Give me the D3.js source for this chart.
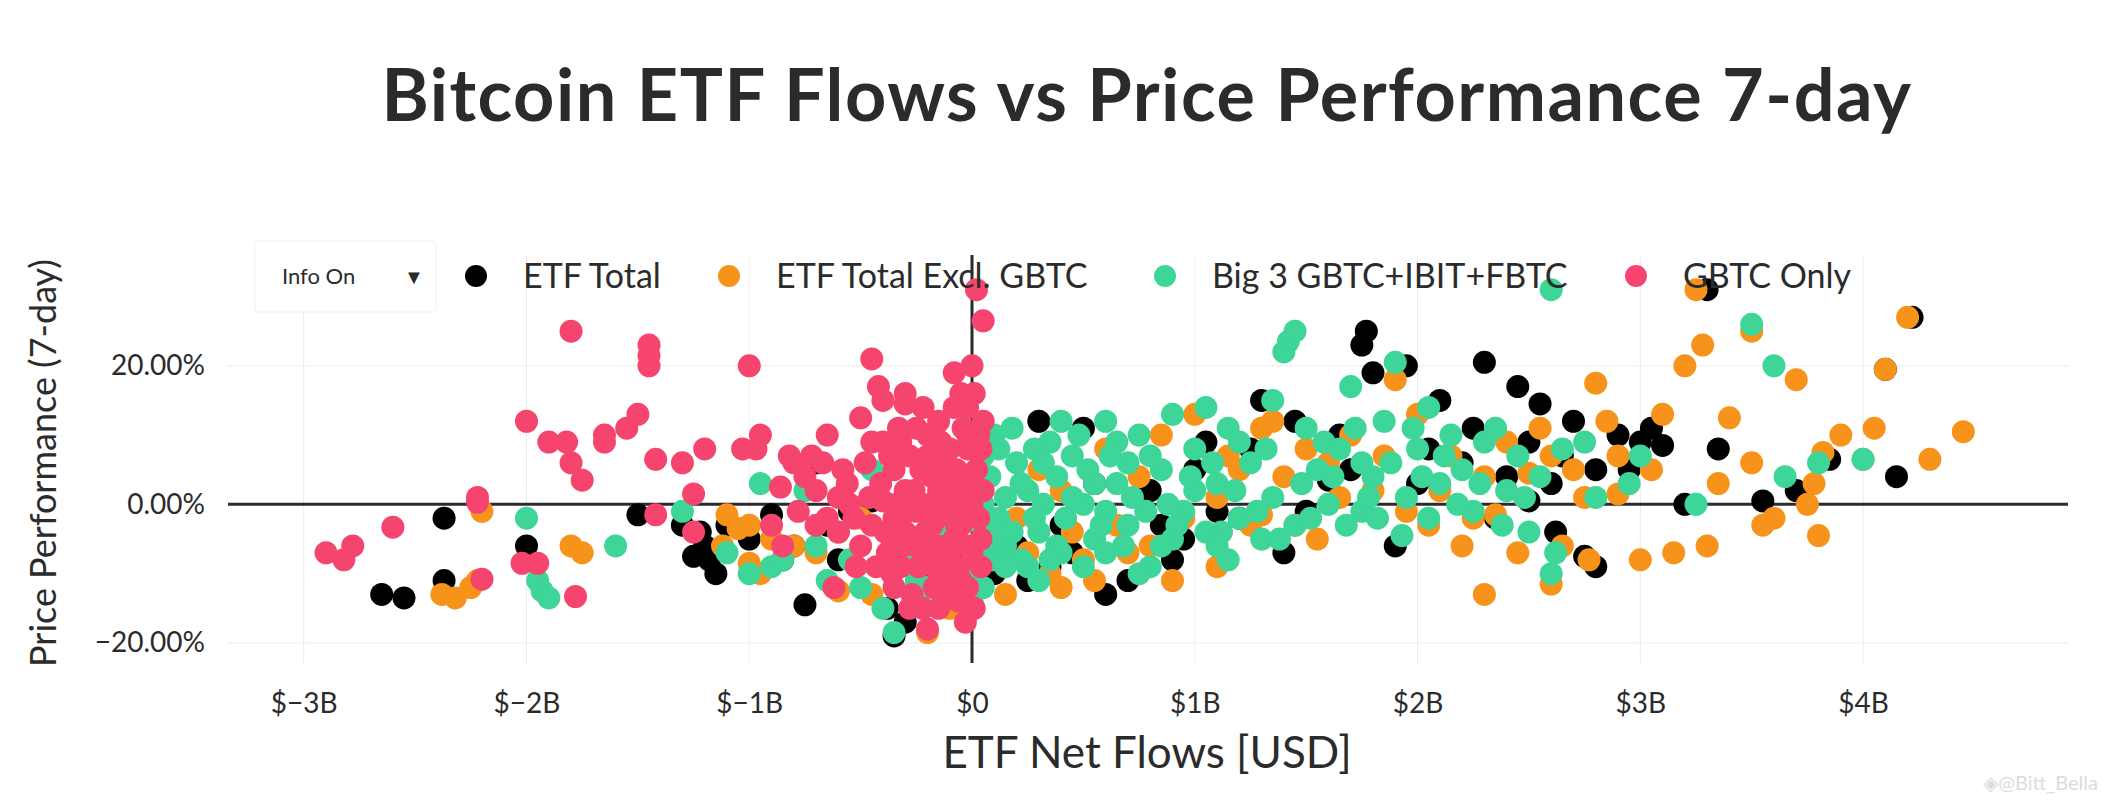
<!DOCTYPE html>
<html><head><meta charset="utf-8">
<script src="https://cdn.jsdelivr.net/npm/d3@7"></script>
<style>body{margin:0;background:#fff}text{font-family:Lato,"Open Sans",sans-serif;fill:#2b2b2b}</style>
</head><body><svg id="c" width="2103" height="804"></svg>
<script>
const seriesNames=["ETF Total","ETF Total Excl. GBTC","Big 3 GBTC+IBIT+FBTC","GBTC Only"];
const seriesColors=["#000000","#f7931a","#3dd598","#f5456e"];
const xTicks=[-3,-2,-1,0,1,2,3,4];
const yTicks=[-20,0,20];
const etfTotal=[[-2.65,-13],[-2.55,-13.5],[-2.37,-11],[-2.37,-2],[-2.0,-6],[-1.5,-1.5],[-1.3,-3],[-1.25,-7.5],[-1.2,-6],[-1.15,-10],[-1.1,-3],[-0.9,-1.5],[-0.75,-14.5],[-0.7,6],[-0.55,-1],[-0.35,-19],[-0.38,-15],[-0.3,-17],[-0.45,0.5],[-0.2,-9],[0.35,-9],[0.6,-13],[0.4,-3],[0.5,11],[0.9,-8],[1.05,9],[1.25,8],[1.3,15],[1.45,12],[1.6,3.5],[1.75,23],[1.77,25],[1.8,19],[1.9,-6],[1.95,20],[2.1,15],[2.3,20.5],[2.35,-2],[2.45,17],[2.5,9],[2.55,14.5],[2.6,3],[2.62,-4],[2.7,12],[2.75,-7.5],[2.8,-9],[2.9,10],[2.95,5],[3.05,11],[3.1,8.5],[3.3,31],[3.35,8],[3.55,0.5],[3.7,2],[3.85,6.5],[4.1,19.5],[4.22,27],[4.15,4],[1.2,-2],[0.8,2],[1.0,5],[1.5,-1],[2.0,3],[2.2,6],[0.3,12],[1.4,-7],[0.95,-5],[2.5,0.5],[3.2,0],[0.2,-6],[-0.05,-8],[-0.6,-8],[-0.85,-8],[-1.0,-5],[2.8,5],[3.0,9],[1.65,10],[2.25,11],[0.7,-11],[-1.22,-4],[-1.18,-8],[-0.8,-6],[-0.65,-3],[0.1,-10],[0.25,-11],[0.45,-7],[1.1,-1],[1.7,5],[2.05,8],[2.4,4],[2.65,7],[0.55,3],[0.85,-3]];
const etfExGbtc=[[-2.38,-13],[-2.32,-13.5],[-2.25,-12],[-2.22,-11],[-2.2,-1],[-1.8,-6],[-1.75,-7],[-1.1,-1.5],[-1.05,-3.5],[-1.0,-8.5],[-0.95,-10],[-0.6,-12.5],[-0.45,-13],[-0.2,-18.5],[-0.1,-15],[0.15,-13],[0.35,-10],[0.5,-8],[0.9,-11],[0.65,-3],[0.4,2],[0.8,-6],[1.1,-9],[1.3,-1.5],[1.35,12],[1.5,8],[1.55,-5],[1.7,10],[1.9,18],[2.0,13],[2.05,-3],[2.2,-6],[2.3,-13],[2.35,-1.5],[2.4,9],[2.5,4.5],[2.55,11],[2.6,-11.5],[2.65,-6],[2.7,5],[2.77,-8],[2.8,17.5],[2.85,12],[2.9,1.5],[3.0,-8],[3.05,5],[3.1,13],[3.15,-7],[3.2,20],[3.25,31],[3.28,23],[3.3,-6],[3.35,3],[3.5,6],[3.5,25],[3.6,-2],[3.7,18],[3.78,3],[3.8,-4.5],[3.82,7.5],[3.9,10],[4.0,6.5],[4.05,11],[4.1,19.5],[4.2,27],[4.3,6.5],[4.45,10.5],[1.0,13],[1.2,5],[1.8,2],[0.3,5],[0.6,8],[0.2,-2],[-0.3,1],[-0.5,-2],[-0.8,-6],[2.15,7],[1.1,1],[0.75,4],[2.25,-2],[3.4,12.5],[3.55,-3],[3.75,0],[2.45,-7],[0.1,-8],[0.55,-11],[1.25,-3],[1.6,6],[2.1,2],[-1.12,-6],[-1.0,-3],[-0.9,-5],[-0.7,-7],[-0.35,-4],[0.05,-5],[0.25,-7],[0.45,-4],[0.7,-7],[0.95,-2],[1.15,7],[1.4,4],[1.45,-3],[1.65,1],[1.85,7],[1.95,-1],[2.3,4],[2.6,7],[2.75,1],[0.85,10],[1.3,11],[0.4,-12],[2.9,7]];
const big3=[[-2.0,-2],[-1.95,-11],[-1.93,-12.5],[-1.9,-13.5],[-1.6,-6],[-1.3,-1],[-1.0,-10],[-0.95,3],[-0.9,-9],[-0.85,-8],[-0.6,-4],[-0.5,-12],[-0.35,-18.5],[-0.4,-15],[-0.2,-12],[0.0,-14],[0.05,-12],[0.0,-10],[0.1,10],[0.2,6],[0.25,2],[0.3,-4],[0.35,9],[0.4,-7],[0.45,7],[0.5,0],[0.55,-5],[0.6,12],[0.65,3],[0.7,-3],[0.75,10],[0.8,-9],[0.85,5],[0.9,13],[0.95,-1],[1.0,8],[1.05,-4],[1.1,3],[1.15,11],[1.2,-2],[1.25,6],[1.3,-5],[1.35,1],[1.4,22],[1.42,23.5],[1.45,-3],[1.5,11],[1.55,5],[1.6,0],[1.65,8],[1.7,17],[1.75,-1],[1.8,4],[1.85,12],[1.9,20.5],[1.93,-4.5],[1.95,1],[2.0,8],[2.05,14],[2.1,3],[2.15,10],[2.2,5],[2.25,-1],[2.3,9],[2.35,11],[2.4,2],[2.45,7],[2.5,-4],[2.55,4],[2.6,-10],[2.62,-7],[2.65,8],[2.75,9],[2.8,1],[2.95,3],[3.0,7],[3.5,26],[3.6,20],[3.65,4],[3.8,6],[4.0,6.5],[3.25,0],[2.6,31],[1.45,25],[0.15,-6],[0.25,-9],[-0.1,-4],[0.5,-9],[0.7,6],[1.05,14],[0.4,12],[0.6,-1],[1.2,9],[1.75,6],[2.05,-2],[1.35,15],[0.9,-5],[-0.7,-6],[-0.75,2],[-1.1,-7],[0.08,4],[0.12,-2],[0.18,11],[0.22,-8],[0.28,8],[0.32,0],[0.38,4],[0.15,1],[0.05,7],[0.1,-5],[0.42,-2],[0.48,10],[0.55,3],[0.65,9],[0.78,-1],[0.85,-6],[1.0,2],[1.15,-8],[0.3,-11],[-0.45,5],[-0.3,-8],[0.08,-8],[0.12,8],[0.18,-4],[0.22,3],[0.28,-2],[0.32,6],[0.38,-6],[0.45,1],[0.52,5],[0.58,-3],[0.62,7],[0.68,-6],[0.72,1],[0.8,7],[0.88,0],[0.92,-3],[0.98,4],[1.08,6],[1.12,-4],[1.18,2],[1.28,-1],[1.32,8],[1.38,-5],[1.48,3],[1.52,-2],[1.58,9],[1.62,4],[1.68,-3],[1.72,11],[1.78,1],[1.82,-2],[1.88,6],[1.98,11],[2.02,4],[2.12,7],[2.18,0],[2.28,3],[2.38,-3],[2.48,1],[0.05,0],[0.15,-9],[0.35,-8],[0.6,-7],[0.75,-10],[1.1,-6],[0.04,-3],[0.02,3],[-0.15,-7],[-0.25,-11],[-0.55,-8],[-0.65,-11]];
const gbtc=[[-2.9,-7],[-2.82,-8],[-2.78,-6],[-2.6,-3.3],[-2.22,0.3],[-2.22,1],[-2.2,-10.8],[-2.0,12],[-2.02,-8.5],[-1.95,-8.5],[-1.8,25],[-1.9,9],[-1.82,9],[-1.8,6],[-1.78,-13.3],[-1.75,3.5],[-1.65,10],[-1.65,9],[-1.55,11],[-1.5,13],[-1.45,23],[-1.45,21.5],[-1.45,20],[-1.42,6.5],[-1.42,-1.5],[-1.3,6],[-1.25,1.5],[-1.25,-4],[-1.2,8],[-1.0,20],[-1.03,8],[-0.95,10],[-0.97,8],[-0.86,2.5],[-0.8,6],[-0.75,4],[-0.72,7],[-0.7,2],[-0.65,10],[-0.62,-12],[-0.58,5],[-0.55,0],[-0.52,-9],[-0.5,12.5],[-0.45,21],[-0.42,17],[-0.4,15],[-0.38,-7],[-0.35,-12],[-0.32,9],[-0.3,2],[-0.3,-4],[-0.28,-15],[-0.25,11],[-0.22,-7],[-0.2,-18],[-0.2,7],[-0.18,4],[-0.15,12],[-0.15,-10],[-0.12,0],[-0.12,-13],[-0.1,8],[-0.08,19],[-0.08,-5],[-0.05,16],[-0.05,2],[-0.03,-17],[-0.02,10],[0.0,20],[0.02,31],[0.05,26.5],[0.0,-7],[0.05,12],[0.02,5],[-0.05,-11],[-0.25,-1],[-0.18,-3],[-0.1,-1],[-0.08,3],[-0.4,0.5],[-0.45,-3],[-0.35,5],[-0.6,-4],[-0.15,-6],[-0.22,14],[-0.3,14.5],[-0.06,-14],[0.03,-2],[-0.12,6],[-0.28,7],[-0.5,-6],[-0.65,-2],[-0.78,-1],[-0.9,-3],[0.04,-9],[0.04,8],[-0.02,14],[-0.4,9],[-0.2,-8.5],[-0.32,-9],[-0.1,-8],[-0.05,-3],[0.0,0],[-0.15,2],[-0.25,-6],[-0.35,-2],[-0.02,-12],[-0.02,-6],[-0.02,-1],[-0.02,4],[-0.02,8],[-0.04,11],[-0.06,-9],[-0.07,-3],[-0.07,5],[-0.09,1],[-0.1,-11],[-0.11,-6],[-0.13,3],[-0.14,9],[-0.16,-2],[-0.17,-12],[-0.19,0],[-0.2,10],[-0.21,-4],[-0.23,5],[-0.24,-9],[-0.26,2],[-0.27,-13],[-0.29,-1],[-0.31,-6],[-0.33,11],[-0.34,0],[-0.36,-10],[-0.37,7],[-0.39,-4],[-0.41,3],[-0.43,-9],[-0.46,1],[-0.48,6],[-0.53,-2],[-0.56,3],[-0.45,9],[-0.3,16],[-0.08,14],[0.01,-15],[-0.15,-15],[-0.22,-15],[0.03,10],[0.01,16],[0.04,-5],[0.05,2],[-0.67,6],[-0.85,-6],[-0.82,7],[-0.6,1],[-0.7,-3]];
const allSeries=[etfTotal,etfExGbtc,big3,gbtc];

const svg=d3.select("#c");
const x=d3.scaleLinear().domain([-3.34,4.92]).range([228,2068]);
const y=d3.scaleLinear().domain([-22.9,36]).range([663,255]);

svg.append("g").selectAll("line").data(xTicks).join("line")
 .attr("x1",d=>x(d)).attr("x2",d=>x(d)).attr("y1",255).attr("y2",663).attr("stroke","#ececec").attr("stroke-width",1);
svg.append("g").selectAll("line").data(yTicks).join("line")
 .attr("x1",228).attr("x2",2068).attr("y1",d=>y(d)).attr("y2",d=>y(d)).attr("stroke","#ececec").attr("stroke-width",1);
svg.append("line").attr("x1",228).attr("x2",2068).attr("y1",y(0)).attr("y2",y(0)).attr("stroke","#2b2b2b").attr("stroke-width",3);
svg.append("line").attr("x1",x(0)).attr("x2",x(0)).attr("y1",255).attr("y2",663).attr("stroke","#2b2b2b").attr("stroke-width",3);

allSeries.forEach((s,i)=>{
 svg.append("g").selectAll("circle").data(s).join("circle")
  .attr("cx",d=>x(d[0])).attr("cy",d=>y(d[1])).attr("r",11.5).attr("fill",seriesColors[i]);
});

const xa=d3.axisBottom(x).tickValues(xTicks).tickSize(0).tickFormat(d=>"$"+(d<0?"−"+(-d):d)+(d===0?"":"B"));
const gx=svg.append("g").attr("transform","translate(0,690)").call(xa);
gx.select(".domain").remove();
gx.selectAll("text").attr("font-size",28).attr("font-family","Lato").attr("fill","#2b2b2b");
const ya=d3.axisLeft(y).tickValues(yTicks).tickSize(0).tickFormat(d=>(d<0?"−":"")+Math.abs(d).toFixed(2)+"%");
const gy=svg.append("g").attr("transform","translate(208,0)").call(ya);
gy.select(".domain").remove();
gy.selectAll("text").attr("font-size",28).attr("font-family","Lato").attr("fill","#2b2b2b");

svg.append("text").attr("x",1147).attr("y",768).attr("text-anchor","middle").attr("font-size",44).text("ETF Net Flows [USD]");
svg.append("text").attr("transform","translate(56,463) rotate(-90)").attr("text-anchor","middle").attr("font-size",36).text("Price Performance (7-day)");
svg.append("text").attr("x",1147).attr("y",121).attr("text-anchor","middle").attr("font-size",72).attr("font-weight",700).attr("letter-spacing",1.5).text("Bitcoin ETF Flows vs Price Performance 7-day");

svg.append("rect").attr("x",255).attr("y",241).attr("width",181).attr("height",71).attr("rx",3).attr("fill","#fff").attr("stroke","#f0f0f0");
svg.append("text").attr("x",282).attr("y",284).attr("font-size",22).attr("fill","#444").text("Info On");
svg.append("text").attr("x",404).attr("y",284).attr("font-size",20).attr("fill","#333").text("▼");

const legX=[476,729,1165,1636];
seriesNames.forEach((n,i)=>{
 svg.append("circle").attr("cx",legX[i]).attr("cy",276).attr("r",11).attr("fill",seriesColors[i]);
 svg.append("text").attr("x",legX[i]+47).attr("y",288).attr("font-size",34).text(n);
});
svg.append("text").attr("x",2098).attr("y",790).attr("text-anchor","end").attr("font-size",20).style("fill","#dcdcdc").text("◈@Bitt_Bella");
</script></body></html>
